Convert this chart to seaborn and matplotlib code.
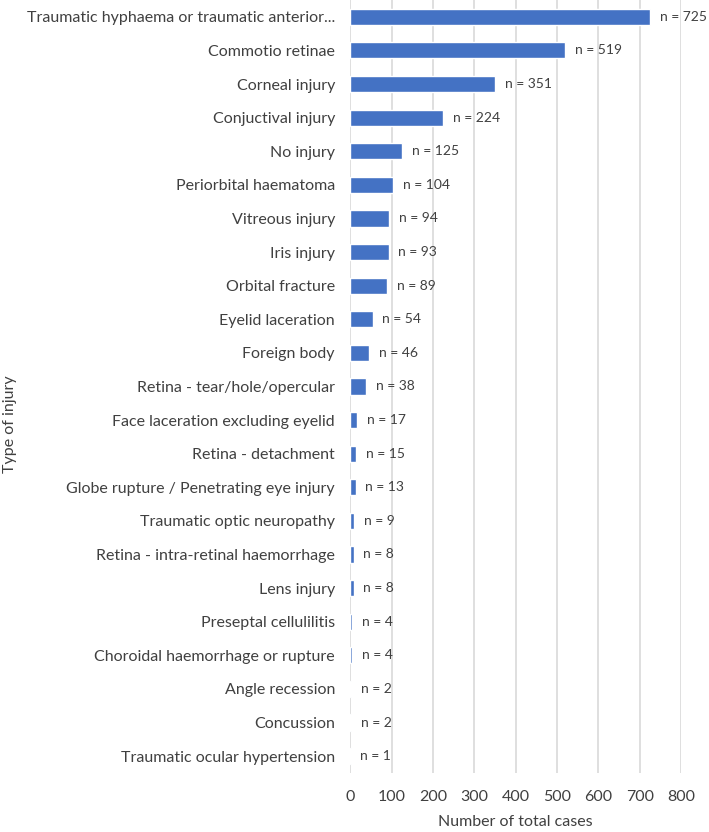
import matplotlib
matplotlib.use("Agg")
import pandas as pd
import matplotlib.pyplot as plt
import seaborn as sns

# Injury categories and counts (top to bottom as shown)
injuries = [
    "Traumatic hyphaema or traumatic anterior...",
    "Commotio retinae",
    "Corneal injury",
    "Conjuctival injury",
    "No injury",
    "Periorbital haematoma",
    "Vitreous injury",
    "Iris injury",
    "Orbital fracture",
    "Eyelid laceration",
    "Foreign body",
    "Retina - tear/hole/opercular",
    "Face laceration excluding eyelid",
    "Retina - detachment",
    "Globe rupture / Penetrating eye injury",
    "Traumatic optic neuropathy",
    "Retina - intra-retinal haemorrhage",
    "Lens injury",
    "Preseptal cellulilitis",
    "Choroidal haemorrhage or rupture",
    "Angle recession",
    "Concussion",
    "Traumatic ocular hypertension",
]
counts = [725, 519, 351, 224, 125, 104, 94, 93, 89, 54, 46, 38, 17, 15, 13, 9, 8, 8, 4, 4, 2, 2, 1]
x_ticks = [0, 100, 200, 300, 400, 500, 600, 700, 800]

data = pd.DataFrame({"Injury": injuries, "Cases": counts})

sns.set_theme(style="white")
plt.rcParams["font.family"] = ["Lato", "DejaVu Sans"]
text_color = "#404040"

fig = plt.figure(figsize=(7.09, 8.32), dpi=100)
ax = fig.add_axes([0.494, 0.071, 0.4665, 0.929])

sns.barplot(data=data, x="Cases", y="Injury", color="#4472C4", width=0.48,
            saturation=1, ax=ax)

ax.set_xlim(0, 800)
ax.set_xticks(x_ticks)
ax.xaxis.grid(True, color="#D9D9D9", linewidth=1.2)
ax.set_axisbelow(True)
for s in ax.spines.values():
    s.set_visible(False)
ax.tick_params(axis="both", length=0, colors=text_color, labelsize=11.5)
ax.tick_params(axis="y", pad=11)
ax.tick_params(axis="x", pad=12)

for i, v in enumerate(counts):
    ax.annotate(f"n = {v}", xy=(v, i), xytext=(7, 0), textcoords="offset points",
                va="center", ha="left", fontsize=10, color=text_color)

ax.set_xlabel("Number of total cases", fontsize=11.5, color=text_color, labelpad=8)
ax.set_ylabel("")
fig.text(0.004, 0.49, "Type of injury", rotation=90, va="center", ha="left",
         fontsize=11.5, color=text_color)

fig.savefig("out.png", dpi=100)
